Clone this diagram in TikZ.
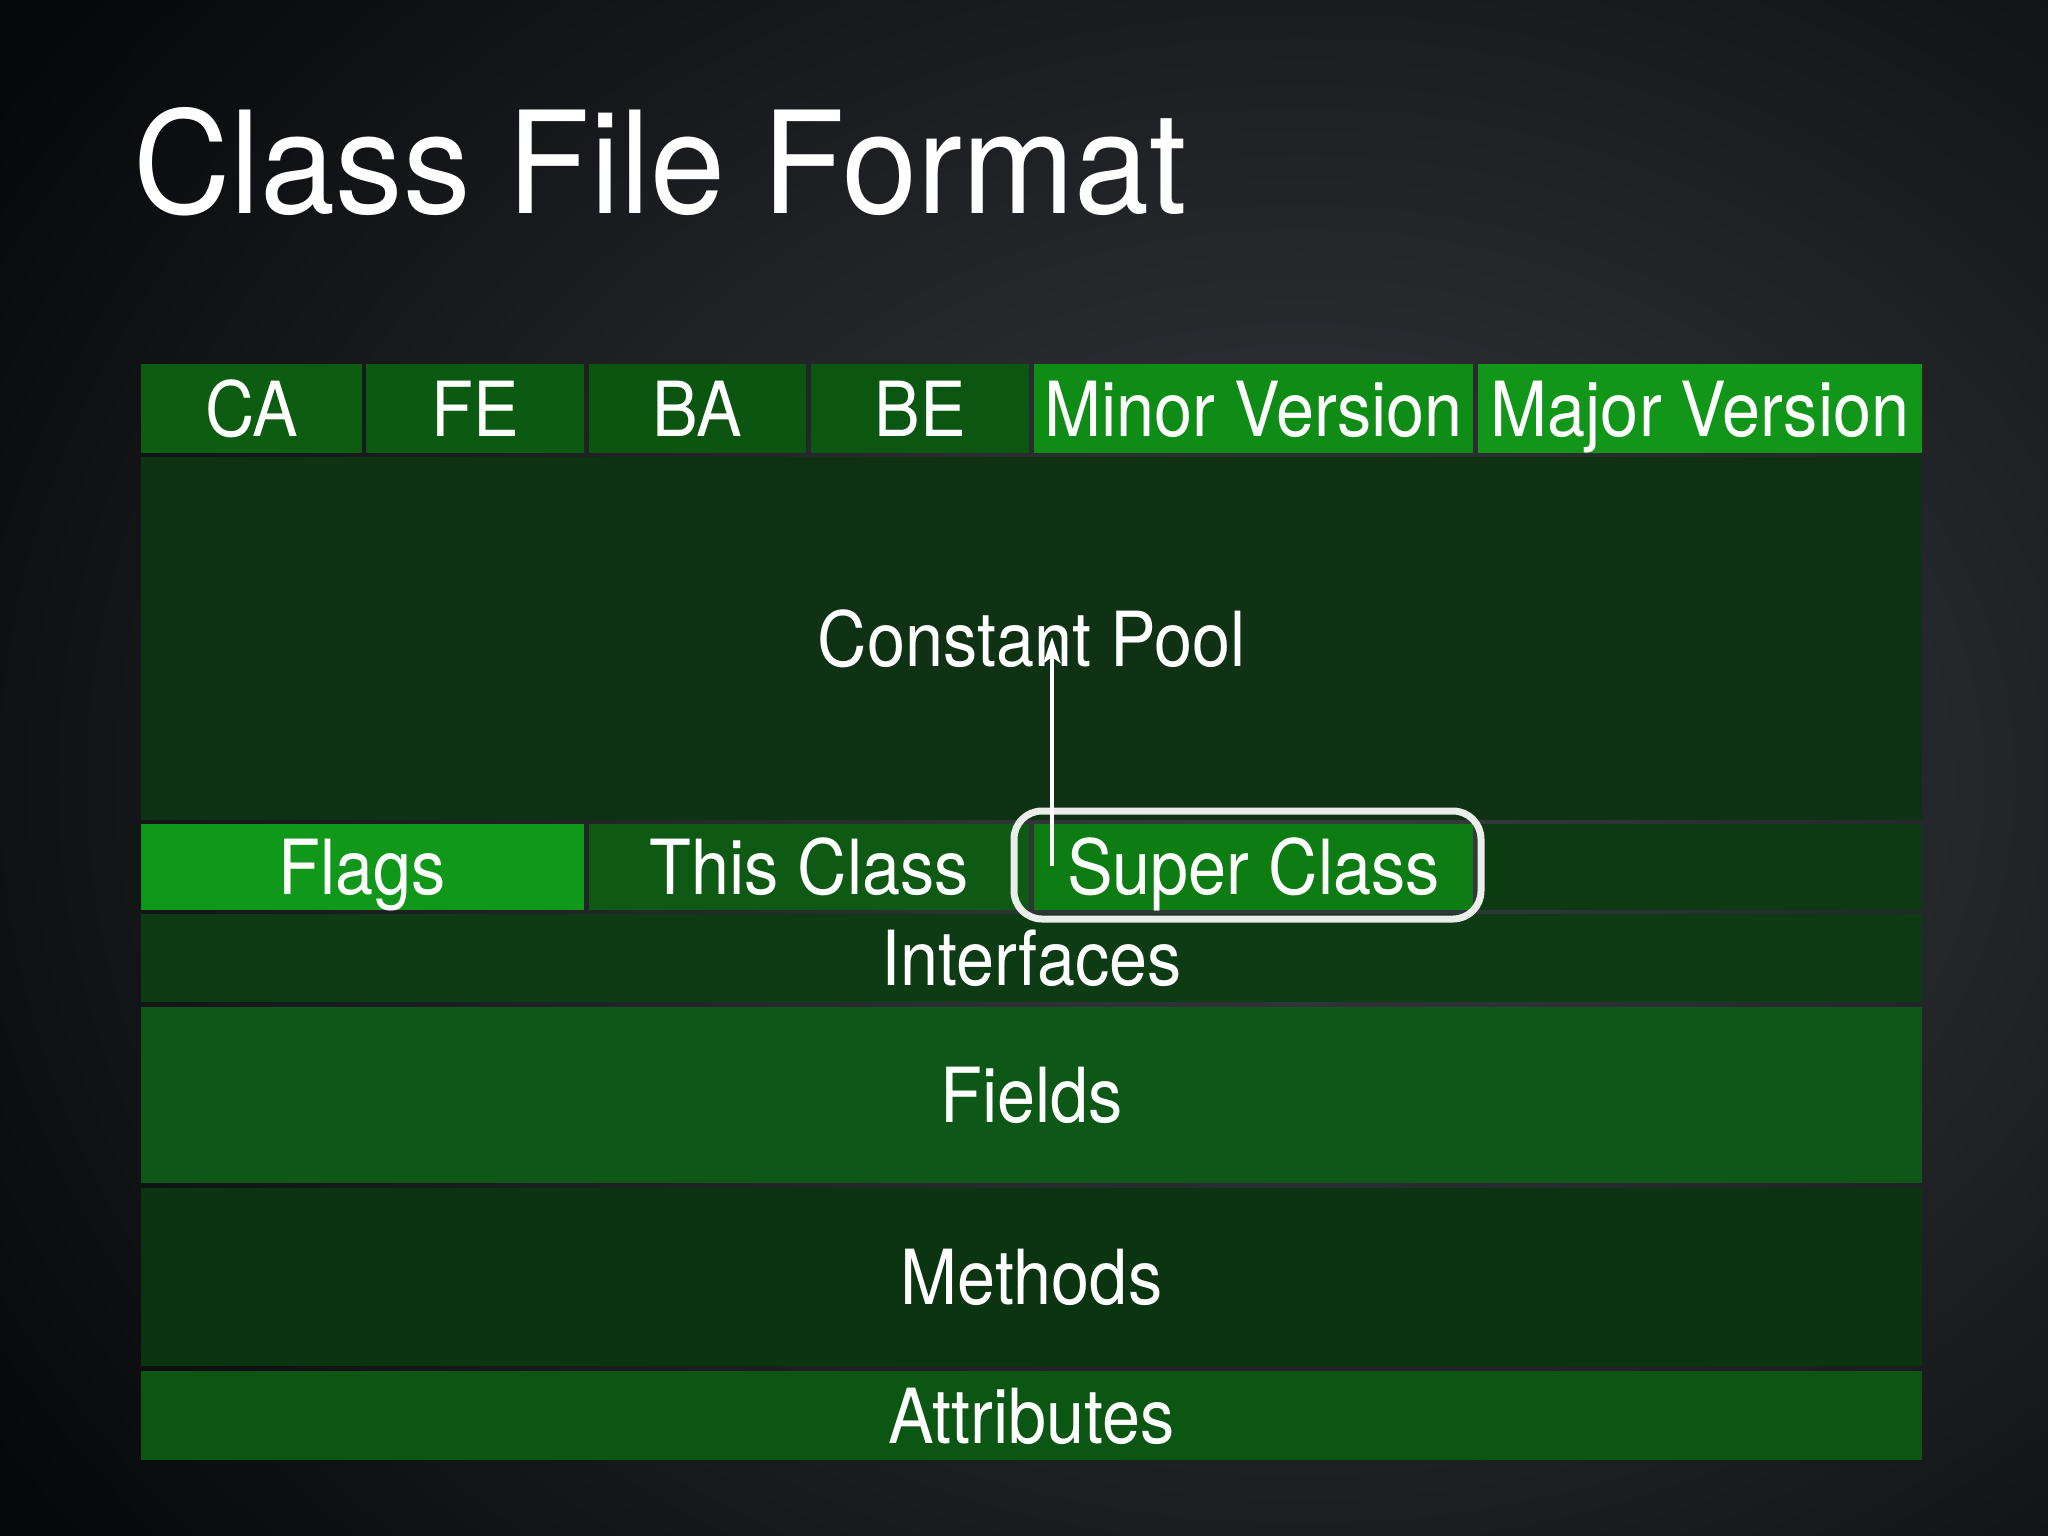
\documentclass[tikz,border=0pt]{standalone}
\usepackage{fontspec}
\setmainfont{TeX Gyre Heros}[FakeStretch=0.9]
\newfontfamily\titlefont{TeX Gyre Heros}[FakeStretch=0.95]
\usetikzlibrary{arrows.meta}
\definecolor{bgdark}{HTML}{07080A}
\definecolor{bglight}{HTML}{3A3D42}
\definecolor{cCA}{HTML}{0C5C12}
\definecolor{cFE}{HTML}{0C5A12}
\definecolor{cBA}{HTML}{0B5510}
\definecolor{cBE}{HTML}{0B5610}
\definecolor{cMinor}{HTML}{0F8C16}
\definecolor{cMajor}{HTML}{12961A}
\definecolor{cPool}{HTML}{0F3114}
\definecolor{cFlags}{HTML}{11981B}
\definecolor{cThis}{HTML}{0E5A15}
\definecolor{cSuper}{HTML}{0D7D13}
\definecolor{cRest}{HTML}{0C3B12}
\definecolor{cIntf}{HTML}{0D3B13}
\definecolor{cFields}{HTML}{0D5816}
\definecolor{cMethods}{HTML}{0B3510}
\definecolor{cAttr}{HTML}{0B5613}
\definecolor{hlwhite}{HTML}{EBEDEB}
\tikzset{
  cell/.style={rectangle, inner sep=0pt, text=white, font=\fontsize{76}{80}\selectfont,
    text height=55pt, text depth=0pt, anchor=center},
  hlbox/.style={rectangle, draw=hlwhite, line width=7pt, rounded corners=28pt, inner sep=0pt},
  ptr/.style={draw=white, line width=3.5pt, -{Stealth[length=26pt,width=17pt,inset=6pt]}},
}
\begin{document}
\begin{tikzpicture}[x=1pt,y=-1pt]
\useasboundingbox (0,0) rectangle (2048,1536);
\begin{scope}
\clip (0,0) rectangle (2048,1536);
\fill[bgdark] (0,0) rectangle (2048,1536);
\shade[inner color=bglight, outer color=bgdark] (1300,780) ellipse (1550 and 1250);
\end{scope}
% title
\node[anchor=base west, inner sep=0pt, text=white, font=\titlefont\fontsize{142}{150}\selectfont] (title) at (133,213) {Class File Format};
% header row
\node[cell, fill=cCA, minimum width=221pt, minimum height=89pt] (ca) at (251.5,408.5) {CA};
\node[cell, fill=cFE, minimum width=218pt, minimum height=89pt] (fe) at (475,408.5) {FE};
\node[cell, fill=cBA, minimum width=217pt, minimum height=89pt] (ba) at (697.5,408.5) {BA};
\node[cell, fill=cBE, minimum width=218pt, minimum height=89pt] (be) at (920,408.5) {BE};
\node[cell, fill=cMinor, minimum width=439pt, minimum height=89pt] (minor) at (1253.5,408.5) {Minor Version};
\node[cell, fill=cMajor, minimum width=444pt, minimum height=89pt] (major) at (1700,408.5) {Major Version};
% constant pool
\node[cell, fill=cPool, minimum width=1781pt, minimum height=363pt] (pool) at (1031.5,638.5) {Constant Pool};
% flags row
\node[cell, fill=cFlags, minimum width=443pt, minimum height=86pt] (flags) at (362.5,867) {Flags};
\node[cell, fill=cThis, minimum width=440pt, minimum height=86pt] (this) at (809,867) {This Class};
\node[cell, fill=cSuper, minimum width=439pt, minimum height=86pt] (super) at (1253.5,867) {Super Class};
\node[cell, fill=cRest, minimum width=444pt, minimum height=86pt] (rest) at (1700,867) {};
% remaining rows
\node[cell, fill=cIntf, minimum width=1781pt, minimum height=88pt] (intf) at (1031.5,958) {Interfaces};
\node[cell, fill=cFields, minimum width=1781pt, minimum height=176pt] (fields) at (1031.5,1095) {Fields};
\node[cell, fill=cMethods, minimum width=1781pt, minimum height=178pt] (methods) at (1031.5,1277) {Methods};
\node[cell, fill=cAttr, minimum width=1781pt, minimum height=89pt] (attr) at (1031.5,1415.5) {Attributes};
% highlight and pointer
\node[hlbox, minimum width=467pt, minimum height=108pt] (hl) at (1247.5,865) {};
\coordinate (ptrstart) at (1052,866);
\coordinate (ptrend) at (1052,637);
\draw[ptr] (ptrstart) -- (ptrend);
\end{tikzpicture}
\end{document}
